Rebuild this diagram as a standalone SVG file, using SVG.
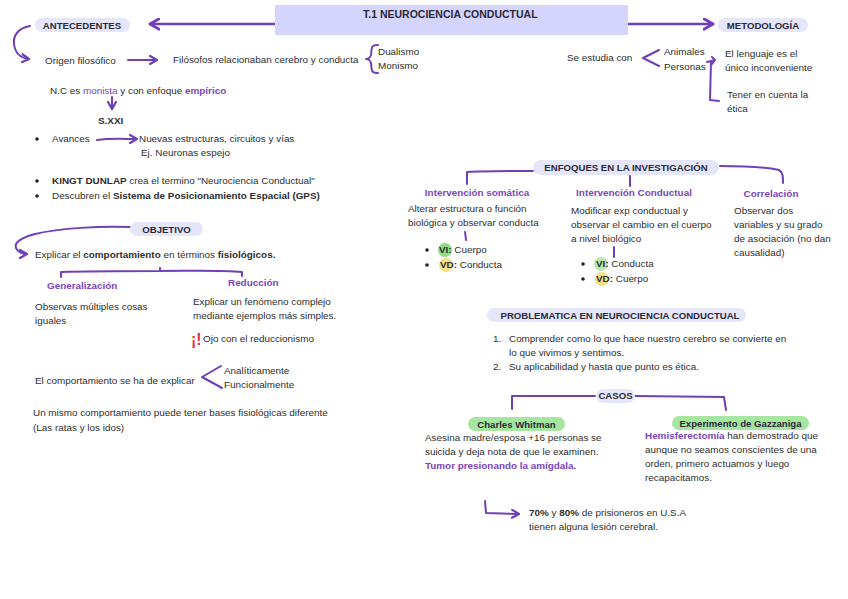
<svg xmlns="http://www.w3.org/2000/svg" width="848" height="599" viewBox="0 0 848 599">
<defs>
<style>
text{font-family:"Liberation Sans",Arial,sans-serif;font-size:9.9px;fill:#2e2e2e}
.b{font-weight:bold}
.h{font-weight:bold;font-size:9.6px;fill:#2a2a3a}
.p{fill:#7a45c0}
.pb{fill:#7a45c0;font-weight:bold}
.pill{fill:#e6e6fb}
.gp{fill:#a6e6a0}
.ln{fill:none;stroke:#7040b8;stroke-width:2;stroke-linecap:round;stroke-linejoin:round}
.ln3{fill:none;stroke:#7040b8;stroke-width:2.6;stroke-linecap:round;stroke-linejoin:round}
.dot{fill:#222}
</style>
<marker id="ah" viewBox="0 0 10 10" refX="8" refY="5" markerWidth="5" markerHeight="5" orient="auto">
<path d="M1,1 L8,5 L1,9" fill="none" stroke="#7040b8" stroke-width="2.2" stroke-linecap="round" stroke-linejoin="round"/>
</marker>
</defs>
<rect width="848" height="599" fill="#ffffff"/>

<g id="connectors">
<path class="ln3" d="M275,24 L150,24" marker-end="url(#ah)"/>
<path class="ln3" d="M628,24 L713,24" marker-end="url(#ah)"/>
<path class="ln" d="M30,26 C18,28 13,36 14,44 C15,52 20,58 29,59" marker-end="url(#ah)"/>
<path class="ln" d="M128,60 L157,60" marker-end="url(#ah)"/>
<path class="ln" d="M378,45 C370,45 372,49 371,55 C370,58 368,59 366,59 C368,59 370,60 371,63 C372,69 370,73 378,73"/>
<path class="ln" d="M112,97 L112,109" marker-end="url(#ah)"/>
<path class="ln" d="M97,140 C110,138 125,139 137,139" marker-end="url(#ah)"/>
<path class="ln" d="M659,50 L643,58 L659,66"/>
<path class="ln" d="M707,62 L715,60 M715,60 L712,57 M715,60 L712,64 M711,62 L710,100 L719,101"/>
<path class="ln" d="M130,227 C100,226 60,228 35,234 C20,238 14,243 16,248 C18,252 22,254 27,254" marker-end="url(#ah)"/>
<path class="ln" d="M61,277 L61,272 C90,271 130,271 160,271 L160,268 M160,271 C190,271 220,270 242,272 L242,276"/>
<path class="ln" d="M221,366 L202,377 L222,388"/>
<path class="ln" d="M533,171 C510,171 485,171 467,172 L467,184"/>
<path class="ln" d="M630,176 L630,186"/>
<path class="ln" d="M720,166 C745,166 770,168 779,170 C783,172 783,177 783,183"/>
<path class="ln" d="M465,232 L466,240"/>
<path class="ln" d="M614,247 L614,257"/>
<path class="ln" d="M595,396 L512,396 L512,409"/>
<path class="ln" d="M635,396 L724,397 L726,410"/>
<path class="ln" d="M485,501 L486,513 L519,514" marker-end="url(#ah)"/>
</g>

<g id="title">
<rect x="275" y="5" width="353" height="30" fill="#d4d4fc"/>
<text x="363" y="18" class="h" style="font-size:10.5px">T.1 NEUROCIENCIA CONDUCTUAL</text>
</g>

<g id="antecedentes">
<rect class="pill" x="35" y="18" width="95" height="14" rx="7"/>
<text x="82" y="28.5" class="h" text-anchor="middle">ANTECEDENTES</text>
<text x="45" y="64">Origen filosófico</text>
<text x="173" y="63">Filósofos relacionaban cerebro y conducta</text>
<text x="378" y="55">Dualismo</text>
<text x="378" y="69">Monismo</text>
<text x="50" y="94">N.C es <tspan class="p">monista</tspan> y con enfoque <tspan class="pb">empírico</tspan></text>
<text x="98" y="124" class="b">S.XXI</text>
<circle class="dot" cx="37" cy="139" r="1.8"/>
<text x="52" y="142">Avances</text>
<text x="139" y="142">Nuevas estructuras, circuitos y vías</text>
<text x="141" y="156">Ej. Neuronas espejo</text>
<circle class="dot" cx="37" cy="181" r="1.8"/>
<text x="52" y="184"><tspan class="b">KINGT DUNLAP</tspan> crea el termino "Neurociencia Conductual"</text>
<circle class="dot" cx="37" cy="196" r="1.8"/>
<text x="52" y="199">Descubren el <tspan class="b">Sistema de Posicionamiento Espacial (GPS)</tspan></text>
</g>

<g id="metodologia">
<rect class="pill" x="718" y="18" width="90" height="14" rx="7"/>
<text x="763" y="28.5" class="h" text-anchor="middle">METODOLOGÍA</text>
<text x="567" y="61">Se estudia con</text>
<text x="664" y="55">Animales</text>
<text x="664" y="70">Personas</text>
<text x="725" y="57">El lenguaje es el</text>
<text x="725" y="71">único inconveniente</text>
<text x="727" y="98">Tener en cuenta la</text>
<text x="727" y="112">ética</text>
</g>

<g id="objetivo">
<rect class="pill" x="130" y="222" width="73" height="14" rx="7"/>
<text x="166.5" y="232.5" class="h" text-anchor="middle">OBJETIVO</text>
<text x="35" y="258">Explicar el <tspan class="b">comportamiento</tspan> en términos <tspan class="b">fisiológicos.</tspan></text>
<text x="47" y="289" class="pb">Generalización</text>
<text x="228" y="286" class="pb">Reducción</text>
<text x="35" y="310">Observas múltiples cosas</text>
<text x="35" y="324">iguales</text>
<text x="193" y="305">Explicar un fenómeno complejo</text>
<text x="193" y="319">mediante ejemplos más simples.</text>
<text x="191" y="345" style="fill:#e53935;font-weight:bold;font-size:16px">¡!</text>
<text x="203" y="342">Ojo con el reduccionismo</text>
<text x="35" y="384">El comportamiento se ha de explicar</text>
<text x="224" y="374">Analíticamente</text>
<text x="224" y="388">Funcionalmente</text>
<text x="33" y="416">Un mismo comportamiento puede tener bases fisiológicas diferente</text>
<text x="33" y="431">(Las ratas y los idos)</text>
</g>

<g id="enfoques">
<rect class="pill" x="533" y="160" width="186" height="15" rx="7.5"/>
<text x="626" y="171" class="h" text-anchor="middle">ENFOQUES EN LA INVESTIGACIÓN</text>
<text x="477" y="196" class="pb" text-anchor="middle">Intervención somática</text>
<text x="634" y="196" class="pb" text-anchor="middle">Intervención Conductual</text>
<text x="771" y="197" class="pb" text-anchor="middle">Correlación</text>
<text x="408" y="212">Alterar estructura o función</text>
<text x="408" y="226">biológica y observar conducta</text>
<circle class="dot" cx="427" cy="250" r="1.8"/>
<circle cx="445" cy="250" r="7" fill="#8edc88"/>
<text x="439" y="253"><tspan class="b">VI:</tspan> Cuerpo</text>
<circle class="dot" cx="427" cy="265" r="1.8"/>
<circle cx="446" cy="265" r="7" fill="#f8de85"/>
<text x="440" y="268"><tspan class="b">VD:</tspan> Conducta</text>
<text x="571" y="214">Modificar exp conductual y</text>
<text x="571" y="228">observar el cambio en el cuerpo</text>
<text x="571" y="242">a nivel biológico</text>
<circle class="dot" cx="583" cy="264" r="1.8"/>
<circle cx="601" cy="264" r="7" fill="#b6e8b0"/>
<text x="596" y="267"><tspan class="b">VI:</tspan> Conducta</text>
<circle class="dot" cx="583" cy="279" r="1.8"/>
<circle cx="602" cy="279" r="7" fill="#f8de85"/>
<text x="596" y="282"><tspan class="b">VD:</tspan> Cuerpo</text>
<text x="734" y="214">Observar dos</text>
<text x="734" y="228">variables y su grado</text>
<text x="734" y="242">de asociación (no dan</text>
<text x="734" y="256">causalidad)</text>
</g>

<g id="problematica">
<rect class="pill" x="487" y="308" width="259" height="14" rx="7"/>
<text x="620" y="318.5" class="h" text-anchor="middle">PROBLEMATICA EN NEUROCIENCIA CONDUCTUAL</text>
<text x="493" y="342">1.</text>
<text x="509" y="342">Comprender como lo que hace nuestro cerebro se convierte en</text>
<text x="509" y="356">lo que vivimos y sentimos.</text>
<text x="493" y="370">2.</text>
<text x="509" y="370">Su aplicabilidad y hasta que punto es ética.</text>
</g>

<g id="casos">
<rect class="pill" x="596" y="389" width="39" height="14" rx="7"/>
<text x="615.5" y="399" class="h" text-anchor="middle">CASOS</text>
</g>

<g id="whitman">
<rect class="gp" x="468" y="417" width="97" height="14" rx="7"/>
<text x="516.5" y="427.5" class="h" text-anchor="middle">Charles Whitman</text>
<text x="425" y="441">Asesina madre/esposa +16 personas se</text>
<text x="425" y="455">suicida y deja nota de que le examinen.</text>
<text x="425" y="469" class="pb">Tumor presionando la amígdala.</text>
</g>

<g id="gazzaniga">
<rect class="gp" x="672" y="416" width="137" height="14" rx="7"/>
<text x="740.5" y="426.5" class="h" text-anchor="middle">Experimento de Gazzaniga</text>
<text x="645" y="439"><tspan class="pb">Hemisferectomía</tspan> han demostrado que</text>
<text x="645" y="453">aunque no seamos conscientes de una</text>
<text x="645" y="467">orden, primero actuamos y luego</text>
<text x="645" y="481">recapacitamos.</text>
</g>

<g id="prisioneros">
<text x="529" y="516"><tspan class="b">70%</tspan> y <tspan class="b">80%</tspan> de prisioneros en U.S.A</text>
<text x="529" y="530">tienen alguna lesión cerebral.</text>
</g>
</svg>
